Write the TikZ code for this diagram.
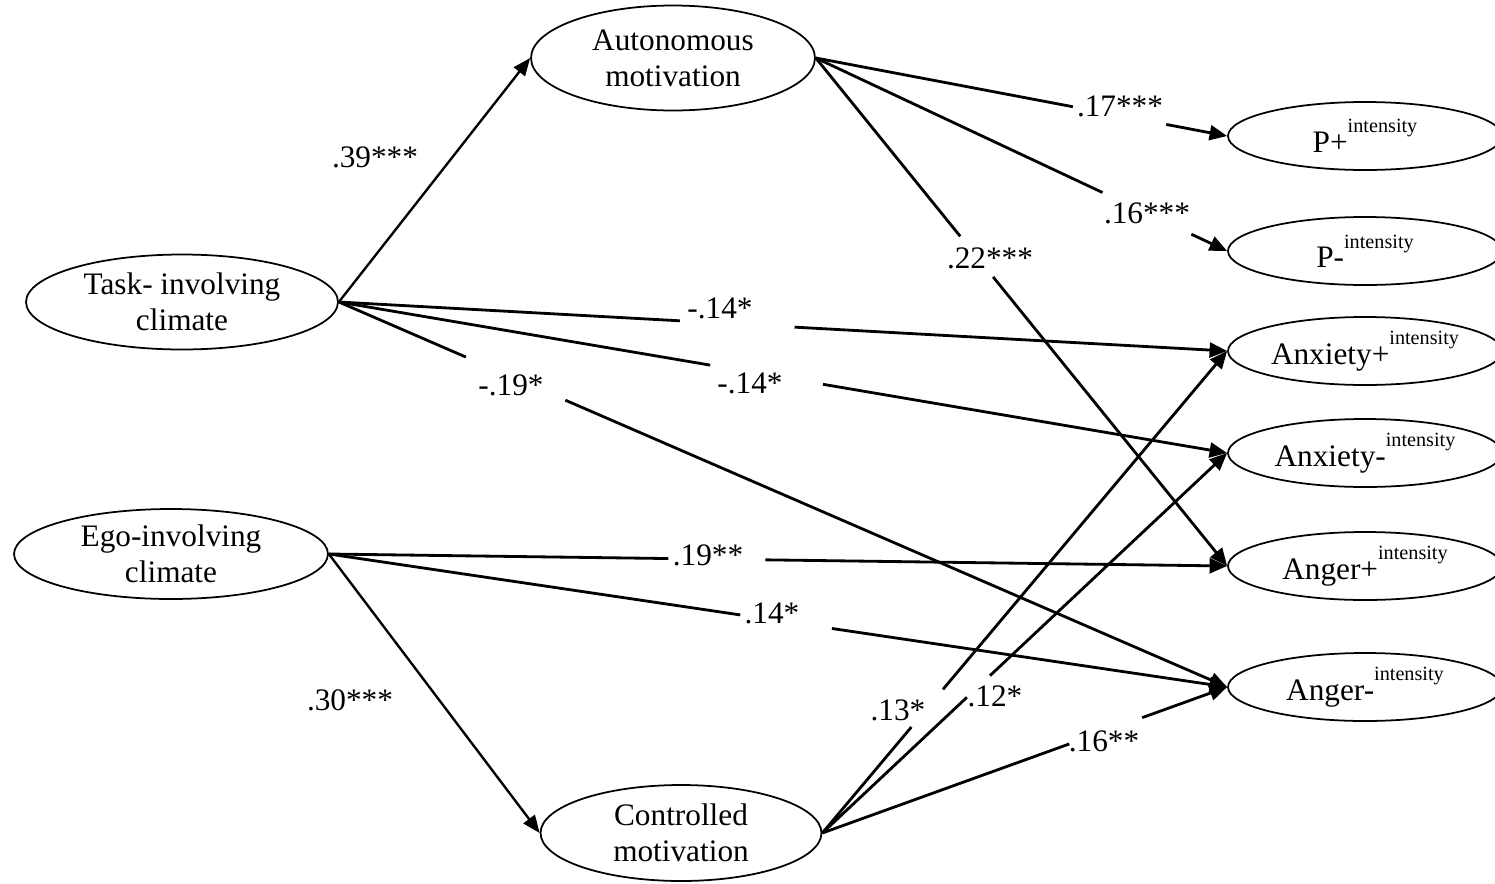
\documentclass[tikz,border=0pt]{standalone}
\usepackage{fontspec}
\setmainfont{Liberation Serif}
\usetikzlibrary{shapes.geometric,arrows.meta,calc}
\newcommand\intens{\raisebox{0.62em}{\fontsize{11.5}{12}\selectfont intensity}}
\newcommand\gapedge[4]{%
  \draw[edge] (#1) -- ($(#1)!#3!(#2)$);
  \draw[arr] ($(#1)!#4!(#2)$) -- (#2);}
\tikzset{
  ell/.style={draw, ellipse, line width=1pt, inner sep=0pt, align=center,
    font=\fontsize{17.8}{20.4}\selectfont},
  rell/.style={ell, minimum width=5.48cm, minimum height=1.36cm},
  lbl/.style={font=\fontsize{17.8}{20.4}\selectfont, inner sep=0pt},
  edge/.style={line width=1.6pt},
  arr/.style={line width=1.6pt, -{Triangle[length=10pt,width=8.5pt]}},
  thinarr/.style={line width=1.35pt, -{Triangle[length=10pt,width=8pt]}},
}
\begin{document}
\begin{tikzpicture}[x=0.02cm, y=-0.02cm]
\clip (0,0) rectangle (1495,883);
\fill[white] (0,0) rectangle (1495,883);
% left / middle nodes
\node[ell, minimum width=5.68cm, minimum height=2.1cm] (aut) at (673,58) {Autonomous\\motivation};
\node[ell, minimum width=6.24cm, minimum height=1.9cm] (task) at (182,302) {Task- involving\\climate};
\node[ell, minimum width=6.28cm, minimum height=1.8cm] (ego) at (171,554) {Ego-involving\\climate};
\node[ell, minimum width=5.62cm, minimum height=1.92cm] (cont) at (681,833) {Controlled\\motivation};
% right nodes
\node[rell] (pp) at (1365,136) {P+\intens};
\node[rell] (pm) at (1365,251) {P-\intens};
\node[rell] (axp) at (1365,351) {Anxiety+\intens};
\node[rell] (axm) at (1365,453) {Anxiety-\intens};
\node[rell] (agp) at (1365,566) {Anger+\intens};
\node[rell] (agm) at (1365,687) {Anger-\intens};
% labels
\node[lbl] (l39) at (375,157) {.39***};
\node[lbl] (l30) at (350,700) {.30***};
\node[lbl] (l17) at (1120,106) {.17***};
\node[lbl] (l16a) at (1147,213) {.16***};
\node[lbl] (l22) at (990,258) {.22***};
\node[lbl] (l14a) at (720,308) {-.14*};
\node[lbl] (l14b) at (750,383) {-.14*};
\node[lbl] (l19a) at (511,385) {-.19*};
\node[lbl] (l19b) at (708,555) {.19**};
\node[lbl] (l14c) at (772,613) {.14*};
\node[lbl] (l13) at (898,710) {.13*};
\node[lbl] (l12) at (995,696) {.12*};
\node[lbl] (l16b) at (1104,741) {.16**};
% edges
\draw[thinarr] (task.east) -- (aut.west);
\draw[thinarr] (ego.east) -- (cont.west);
\gapedge{aut.east}{pp.west}{0.625}{0.852}
\gapedge{aut.east}{pm.west}{0.697}{0.913}
\gapedge{aut.east}{agp.west}{0.351}{0.431}
\gapedge{task.east}{axp.west}{0.384}{0.513}
\gapedge{task.east}{axm.west}{0.418}{0.545}
\gapedge{task.east}{agm.west}{0.143}{0.255}
\gapedge{ego.east}{agp.west}{0.378}{0.486}
\gapedge{ego.east}{agm.west}{0.458}{0.56}
\gapedge{cont.east}{axp.west}{0.22}{0.298}
\gapedge{cont.east}{axm.west}{0.357}{0.414}
\gapedge{cont.east}{agm.west}{0.61}{0.79}
\end{tikzpicture}
\end{document}
